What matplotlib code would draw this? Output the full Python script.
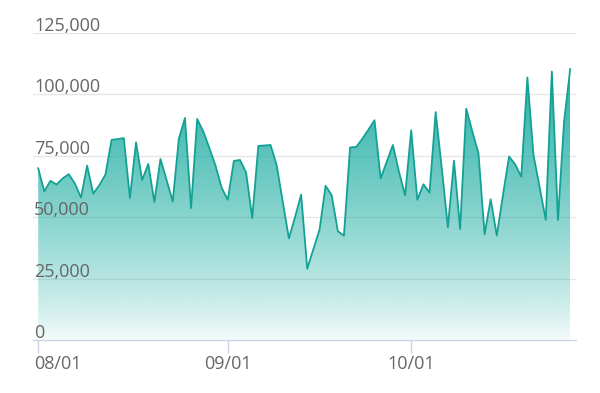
import numpy as np
import pandas as pd
import matplotlib
matplotlib.use('Agg')
import matplotlib.pyplot as plt
import matplotlib.dates as mdates
import matplotlib.transforms as mtrans

# daily values, 08/01 .. 10/27
values = [69900, 60500, 64800, 63300, 65800, 67500, 63700, 58000, 71000, 59600,
          63000, 67400, 81500, 81800, 82200, 57800, 80500, 65100, 71700, 56200,
          73700, 65100, 56400, 81900, 90400, 53700, 90000, 84900, 78100, 71000,
          62000, 57100, 72900, 73300, 68200, 49700, 79000, 79200, 79400, 71200,
          56200, 41400, 50000, 59200, 29000, 37000, 44800, 62800, 58900, 44300,
          42500, 78400, 78600, 81900, 85600, 89500, 65800, 72600, 79400, 68500,
          58900, 85400, 57100, 63400, 60000, 92800, 69900, 45900, 73000, 45200,
          94200, 84900, 76000, 43100, 57300, 42500, 58900, 74700, 71500, 66500,
          106900, 75300, 62300, 48900, 109300, 48900, 89000, 110300]
dates = pd.date_range('2023-08-01', periods=len(values))
yticks = [0, 25000, 50000, 75000, 100000, 125000]
xtick_dates = ['2023-08-01', '2023-09-01', '2023-10-01']
xtick_labels = ['08/01', '09/01', '10/01']

line_col = '#14a195'
text_col = '#666666'
axis_col = '#ccd6eb'

plt.rcParams['font.family'] = ['Open Sans', 'DejaVu Sans']

fig = plt.figure(figsize=(6, 3.93), dpi=100)
ax = fig.add_axes([33 / 600, 53 / 393, 543 / 600, 307 / 393])

x = mdates.date2num(dates)
y = np.array(values)
ax.set_xlim(x[0] - 0.85, x[-1] + 0.95)
ax.set_ylim(0, 125000)

# gradient fill clipped by the area
poly = ax.fill_between(x, y, 0, facecolor='none', edgecolor='none')
rgb = matplotlib.colors.to_rgb('#1cada2')
grad = np.zeros((256, 1, 4))
grad[:, 0, :3] = rgb
grad[:, 0, 3] = 0.04 + 0.96 * np.linspace(0, 1, 256) ** 0.8
im = ax.imshow(grad, extent=[x[0], x[-1], 0, 118000], aspect='auto',
               origin='lower', zorder=2)
im.set_clip_path(poly.get_paths()[0], transform=ax.transData)
ax.plot(x, y, color=line_col, lw=1.3, zorder=3)

# grid
for v in yticks[1:]:
    ax.axhline(v, color='#e6e6e6', lw=1, zorder=1)
for s in ['top', 'right', 'left']:
    ax.spines[s].set_visible(False)
ax.spines['bottom'].set_color(axis_col)
ax.spines['bottom'].set_linewidth(1)

# y labels just above grid lines
ax.set_yticks([])
up = mtrans.ScaledTranslation(1 / 100, 2 / 100, fig.dpi_scale_trans)
for v in yticks:
    ax.text(0, v, f'{v:,}', transform=ax.get_yaxis_transform() + up,
            ha='left', va='baseline', fontsize=13, color=text_col, zorder=4)

# x ticks
ax.set_xticks(mdates.date2num(pd.to_datetime(xtick_dates)))
ax.set_xticklabels(xtick_labels)
ax.tick_params(axis='x', length=9.5, width=1, color=axis_col, pad=1,
               labelsize=13, labelcolor=text_col)
first = ax.get_xticklabels()[0]
first.set_horizontalalignment('left')
first.set_transform(first.get_transform() +
                    mtrans.ScaledTranslation(-4 / 100, 0, fig.dpi_scale_trans))

plt.savefig('out.png', dpi=100)
